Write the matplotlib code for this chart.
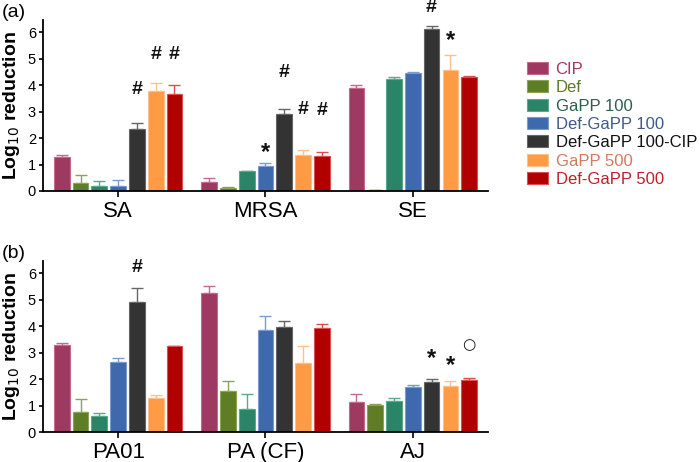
import matplotlib.pyplot as plt
import numpy as np

plt.rcParams['font.family'] = ['Liberation Sans', 'DejaVu Sans']

series = ['CIP', 'Def', 'GaPP 100', 'Def-GaPP 100', 'Def-GaPP 100-CIP', 'GaPP 500', 'Def-GaPP 500']
bar_colors = ['#9e3a62', '#5f7d25', '#2a8568', '#3f69ad', '#333333', '#ff9a45', '#b00000']
edge_colors = ['#c46a8c', '#8aa358', '#5ba88c', '#7b9bd0', '#666666', '#ffc08a', '#d85050']
text_colors = ['#9e3a62', '#5a7a2a', '#2d5e4e', '#3f5a8a', '#111111', '#d07a60', '#c0202a']

groups_a = ['SA', 'MRSA', 'SE']
values_a = [[1.27, 0.33, 3.91],
            [0.32, 0.10, 0.04],
            [0.19, 0.74, 4.22],
            [0.19, 0.96, 4.48],
            [2.33, 2.93, 6.14],
            [3.78, 1.36, 4.59],
            [3.68, 1.34, 4.30]]
errors_a = [[0.09, 0.17, 0.09],
            [0.28, 0.06, 0.0],
            [0.17, 0.02, 0.08],
            [0.24, 0.10, 0.03],
            [0.23, 0.18, 0.12],
            [0.32, 0.18, 0.54],
            [0.32, 0.12, 0.05]]
# (series index, group index, symbol, height of the symbol)
marks_a = [(4, 0, '#', 3.85), (5, 0, '#', 5.15), (6, 0, '#', 5.15),
           (3, 1, '*', 1.72), (4, 1, '#', 4.48), (5, 1, '#', 3.09), (6, 1, '#', 3.04),
           (4, 2, '#', 6.93), (5, 2, '*', 5.96)]

groups_b = ['PA01', 'PA (CF)', 'AJ']
values_b = [[3.28, 5.27, 1.16],
            [0.78, 1.57, 1.03],
            [0.63, 0.89, 1.20],
            [2.67, 3.86, 1.72],
            [4.93, 3.99, 1.91],
            [1.28, 2.63, 1.76],
            [3.25, 3.93, 1.96]]
errors_b = [[0.08, 0.26, 0.29],
            [0.47, 0.37, 0.04],
            [0.11, 0.57, 0.10],
            [0.13, 0.52, 0.05],
            [0.52, 0.22, 0.09],
            [0.15, 0.62, 0.17],
            [0.02, 0.17, 0.09]]
marks_b = [(4, 0, '#', 6.21), (4, 2, '*', 3.04), (5, 2, '*', 2.79), (6, 2, '○', 3.30)]


def draw_panel(ax, groups, values, errors, marks):
    x = np.arange(len(groups))
    pitch = 0.1275
    width = 0.107
    for i in range(len(series)):
        pos = x + (i - 3) * pitch
        ax.bar(pos, values[i], width, color=bar_colors[i], edgecolor=edge_colors[i],
               linewidth=0.8, label=series[i], zorder=2)
        ax.errorbar(pos, values[i], yerr=[np.zeros(len(groups)), errors[i]], fmt='none',
                    ecolor=edge_colors[i], elinewidth=1.0, capsize=4, capthick=1.0, zorder=1)
    for i, g, sym, y in marks:
        xp = x[g] + (i - 3) * pitch
        if sym == '○':
            ax.text(xp, y, sym, ha='center', va='center', fontsize=11,
                    color='#111111', family=['DejaVu Sans'], clip_on=False)
        elif sym == '*':
            # asterisk glyph sits high in its box, so push it down a little
            ax.annotate(sym, (xp, y), xytext=(0, -5), textcoords='offset points',
                        ha='center', va='center', fontsize=17, fontweight='bold',
                        color='#111111', annotation_clip=False)
        else:
            ax.text(xp, y, sym, ha='center', va='center', fontsize=14,
                    fontweight='bold', color='#111111', clip_on=False)
    ax.set_xlim(-0.51, 2.51)
    ax.set_ylim(0, 6.47)
    ax.set_xticks(x)
    ax.set_xticklabels(groups, fontsize=16)
    ax.set_yticks(range(7))
    ax.tick_params(axis='y', labelsize=10.5, length=3, width=1.2, pad=2)
    ax.tick_params(axis='x', length=4, width=1.2, pad=3)
    for s in ['top', 'right']:
        ax.spines[s].set_visible(False)
    for s in ['left', 'bottom']:
        ax.spines[s].set_linewidth(1.3)
    ax.set_ylabel('Log$_{10}$ reduction', fontsize=14, fontweight='bold', labelpad=4)


fig = plt.figure(figsize=(7, 4.62), dpi=100)
ax1 = fig.add_axes([0.0614, 0.5866, 0.6357, 0.3701])
ax2 = fig.add_axes([0.0614, 0.0639, 0.6357, 0.3718])
draw_panel(ax1, groups_a, values_a, errors_a, marks_a)
draw_panel(ax2, groups_b, values_b, errors_b, marks_b)
fig.text(0.003, 0.974, '(a)', fontsize=14, ha='left', va='center')
fig.text(0.003, 0.452, '(b)', fontsize=14, ha='left', va='center')

handles, labels = ax1.get_legend_handles_labels()
leg = fig.legend(handles, labels, loc='upper left', bbox_to_anchor=(0.753, 0.866),
                 frameon=False, fontsize=12, handlelength=1.26, handleheight=0.72,
                 labelspacing=0.2, handletextpad=0.45, borderpad=0, borderaxespad=0)
for t, c in zip(leg.get_texts(), text_colors):
    t.set_color(c)

fig.savefig('out.png', dpi=100)
